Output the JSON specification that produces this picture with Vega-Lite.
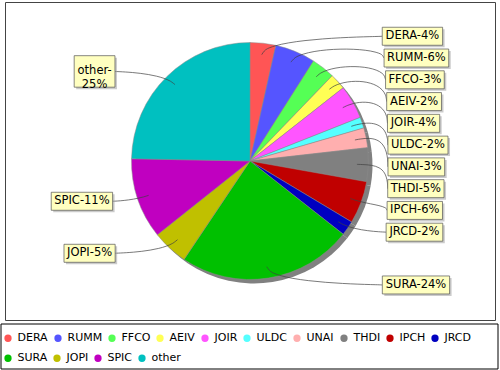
{
  "$schema": "https://vega.github.io/schema/vega-lite/v6.json",
  "width": 490,
  "height": 318,
  "padding": {"left": 5, "top": 2, "right": 5, "bottom": 50},
  "autosize": {"type": "none"},
  "background": "white",
  "config": {"view": {"stroke": "#444444", "strokeWidth": 1}, "font": "DejaVu Sans"},
  "params": [
    {"name": "cw", "value": {"A": 1401, "C": 1430, "D": 1577, "E": 1294, "F": 1178, "H": 1540, "I": 604, "J": 604, "L": 1141, "M": 1767, "N": 1532, "O": 1612, "P": 1235, "R": 1423, "S": 1300, "T": 1251, "U": 1499, "V": 1401, "0": 1303, "1": 1303, "2": 1303, "3": 1303, "4": 1303, "5": 1303, "6": 1303, "7": 1303, "8": 1303, "9": 1303, "-": 739, "%": 1946, "o": 1253, "t": 803, "h": 1298, "e": 1260, "r": 842}}
  ],
  "data": {"values": [
    {"name": "DERA", "value": 3.5, "label": "DERA-4%"},
    {"name": "RUMM", "value": 5.5, "label": "RUMM-6%"},
    {"name": "FFCO", "value": 3.2, "label": "FFCO-3%"},
    {"name": "AEIV", "value": 2.2, "label": "AEIV-2%"},
    {"name": "JOIR", "value": 4.6, "label": "JOIR-4%"},
    {"name": "ULDC", "value": 1.5, "label": "ULDC-2%"},
    {"name": "UNAI", "value": 2.7, "label": "UNAI-3%"},
    {"name": "THDI", "value": 4.6, "label": "THDI-5%"},
    {"name": "IPCH", "value": 5.8, "label": "IPCH-6%"},
    {"name": "JRCD", "value": 2.0, "label": "JRCD-2%"},
    {"name": "SURA", "value": 23.8, "label": "SURA-24%"},
    {"name": "JOPI", "value": 4.9, "label": "JOPI-5%"},
    {"name": "SPIC", "value": 11.0, "label": "SPIC-11%"},
    {"name": "other", "value": 24.7, "label": "other-\n25%"}
  ]},
  "transform": [
    {"window": [{"op": "row_number", "as": "idx"}]},
    {"joinaggregate": [{"op": "sum", "field": "value", "as": "total"}]},
    {"window": [{"op": "sum", "field": "value", "as": "cum"}], "sort": [{"field": "idx"}], "frame": [null, 0]},
    {"calculate": "2*PI*(datum.cum - datum.value/2)/datum.total", "as": "mid"},
    {"calculate": "sin(datum.mid) >= 0 ? 1 : -1", "as": "side"},
    {"calculate": "-125.5*cos(datum.mid)", "as": "ny"},
    {"calculate": "datum.side > 0 && datum.cum/datum.total < 0.4 ? 'spread' : datum.name", "as": "grp"},
    {"window": [{"op": "row_number", "as": "rk"}], "groupby": ["grp"], "sort": [{"field": "idx"}]},
    {"joinaggregate": [{"op": "count", "as": "gn"}, {"op": "min", "field": "ny", "as": "glo"}, {"op": "max", "field": "ny", "as": "ghi"}], "groupby": ["grp"]},
    {"calculate": "datum.gn > 1 ? datum.glo + (datum.ghi - datum.glo)*(datum.rk-1)/(datum.gn-1) : datum.ny", "as": "ly"},
    {"calculate": "datum.side*(138 - 0.00037*datum.ly*datum.ly)", "as": "edge"},
    {"calculate": "split(datum.label, '\\n')", "as": "lines"},
    {"calculate": "datum.lines[0]", "as": "l1"},
    {"calculate": "length(datum.lines)", "as": "nl"},
    {"calculate": "((cw[substring(datum.l1,0,1)]||0)+(cw[substring(datum.l1,1,2)]||0)+(cw[substring(datum.l1,2,3)]||0)+(cw[substring(datum.l1,3,4)]||0)+(cw[substring(datum.l1,4,5)]||0)+(cw[substring(datum.l1,5,6)]||0)+(cw[substring(datum.l1,6,7)]||0)+(cw[substring(datum.l1,7,8)]||0)+(cw[substring(datum.l1,8,9)]||0)+(cw[substring(datum.l1,9,10)]||0))*11.5/2048 + 6", "as": "bw"},
    {"calculate": "datum.side > 0 ? datum.edge : datum.edge - datum.bw", "as": "bx1"},
    {"calculate": "datum.side > 0 ? datum.edge + datum.bw : datum.edge", "as": "bx2"},
    {"calculate": "4.5 + 13.5*datum.nl", "as": "bh"},
    {"calculate": "datum.ly - datum.bh/2", "as": "by1"},
    {"calculate": "datum.ly + datum.bh/2", "as": "by2"},
    {"calculate": "(datum.bx1 + datum.bx2)/2", "as": "tx"}
  ],
  "layer": [
    {
      "mark": {"type": "arc", "radius": 118.5, "color": "#808080", "xOffset": 4, "yOffset": 4},
      "encoding": {
        "theta": {"field": "value", "type": "quantitative", "stack": true},
        "order": {"field": "idx", "type": "quantitative"},
        "detail": {"field": "name", "type": "nominal"}
      }
    },
    {
      "mark": {"type": "arc", "radius": 118.5, "stroke": "#8a8a8a", "strokeWidth": 0.5},
      "encoding": {
        "theta": {"field": "value", "type": "quantitative", "stack": true},
        "order": {"field": "idx", "type": "quantitative"},
        "color": {
          "field": "name", "type": "nominal",
          "scale": {
            "domain": ["DERA", "RUMM", "FFCO", "AEIV", "JOIR", "ULDC", "UNAI", "THDI", "IPCH", "JRCD", "SURA", "JOPI", "SPIC", "other"],
            "range": ["#FF5555", "#5555FF", "#55FF55", "#FFFF55", "#FF55FF", "#55FFFF", "#FFAFAF", "#808080", "#C00000", "#0000C0", "#00C000", "#C0C000", "#C000C0", "#00C0C0"]
          },
          "legend": {
            "title": null, "orient": "none", "legendX": -2.5, "legendY": 330.5,
            "values": ["DERA", "RUMM", "FFCO", "AEIV", "JOIR", "ULDC", "UNAI", "THDI", "IPCH", "JRCD"],
            "direction": "horizontal", "gridAlign": "each",
            "symbolType": "circle", "symbolSize": 53, "symbolStrokeWidth": 0,
            "labelFont": "DejaVu Sans", "labelFontSize": 11, "labelColor": "#000000",
            "labelOffset": 4, "columnPadding": 4, "padding": 0
          }
        }
      }
    },
    {
      "transform": [{"filter": "datum.idx < 0"}],
      "mark": {"type": "point", "filled": true},
      "encoding": {
        "fill": {
          "field": "name", "type": "nominal",
          "scale": {
            "domain": ["SURA", "JOPI", "SPIC", "other"],
            "range": ["#00C000", "#C0C000", "#C000C0", "#00C0C0"]
          },
          "legend": {
            "title": null, "orient": "none", "legendX": -2.5, "legendY": 350.5,
            "direction": "horizontal", "gridAlign": "each",
            "symbolType": "circle", "symbolSize": 53, "symbolStrokeWidth": 0, "symbolOpacity": 1,
            "labelFont": "DejaVu Sans", "labelFontSize": 11, "labelColor": "#000000",
            "labelOffset": 4, "columnPadding": 4, "padding": 0
          }
        }
      }
    },
    {
      "transform": [
        {"calculate": "[0,0.1,0.2,0.3,0.4,0.5,0.6,0.7,0.8,0.9,1]", "as": "ts"},
        {"flatten": ["ts"], "as": ["t"]},
        {"calculate": "pow(1-datum.t,3)*107*sin(datum.mid) + 3*pow(1-datum.t,2)*datum.t*125*sin(datum.mid) + 3*(1-datum.t)*datum.t*datum.t*datum.edge + pow(datum.t,3)*datum.edge", "as": "lx"},
        {"calculate": "pow(1-datum.t,3)*(-107*cos(datum.mid)) + 3*pow(1-datum.t,2)*datum.t*(-125*cos(datum.mid)) + 3*(1-datum.t)*datum.t*datum.t*(-125*cos(datum.mid)) + pow(datum.t,3)*datum.ly", "as": "lyy"}
      ],
      "mark": {"type": "line", "interpolate": "catmull-rom", "stroke": "#404040", "strokeWidth": 0.7},
      "encoding": {
        "x": {"field": "lx", "type": "quantitative", "axis": null, "scale": {"domain": [-245, 245], "nice": false, "zero": false}},
        "y": {"field": "lyy", "type": "quantitative", "axis": null, "scale": {"domain": [-159, 159], "reverse": true, "nice": false, "zero": false}},
        "detail": {"field": "name", "type": "nominal"},
        "order": {"field": "t", "type": "quantitative"}
      }
    },
    {
      "mark": {"type": "rect", "fill": "#979797", "opacity": 0.5, "xOffset": 2, "x2Offset": 2, "yOffset": 2, "y2Offset": 2},
      "encoding": {
        "x": {"field": "bx1", "type": "quantitative", "axis": null},
        "x2": {"field": "bx2"},
        "y": {"field": "by1", "type": "quantitative", "axis": null},
        "y2": {"field": "by2"}
      }
    },
    {
      "mark": {"type": "rect", "fill": "#FFFFC0", "stroke": "#555555", "strokeWidth": 0.7},
      "encoding": {
        "x": {"field": "bx1", "type": "quantitative", "axis": null},
        "x2": {"field": "bx2"},
        "y": {"field": "by1", "type": "quantitative", "axis": null},
        "y2": {"field": "by2"}
      }
    },
    {
      "mark": {"type": "text", "align": "center", "baseline": "middle", "font": "DejaVu Sans", "fontSize": 11.5, "lineBreak": "\n", "lineHeight": 13.5, "color": "#000000"},
      "encoding": {
        "x": {"field": "tx", "type": "quantitative", "axis": null},
        "y": {"field": "ly", "type": "quantitative", "axis": null},
        "text": {"field": "label"}
      }
    },
    {
      "transform": [{"filter": "datum.idx == 1"}],
      "mark": {"type": "rect", "fill": null, "stroke": "#000000", "strokeWidth": 1, "clip": false},
      "encoding": {
        "x": {"datum": -249, "type": "quantitative", "axis": null},
        "x2": {"datum": 248},
        "y": {"datum": 163, "type": "quantitative", "axis": null},
        "y2": {"datum": 208}
      }
    }
  ]
}
